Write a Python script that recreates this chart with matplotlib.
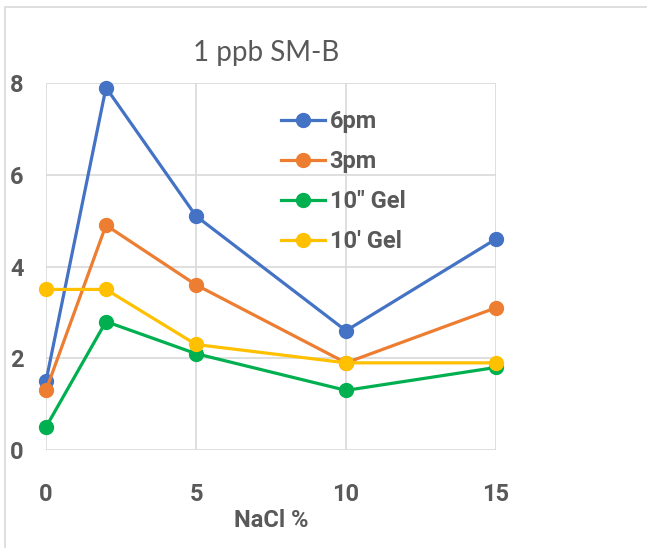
import matplotlib
matplotlib.use("Agg")
import matplotlib.pyplot as plt
from matplotlib.patches import Rectangle

nacl = [0, 2, 5, 10, 15]
series_names = ["6pm", "3pm", "10\" Gel", "10' Gel"]
v_6pm = [1.5, 7.9, 5.1, 2.6, 4.6]
v_3pm = [1.3, 4.9, 3.6, 1.9, 3.1]
v_gel10s = [0.5, 2.8, 2.1, 1.3, 1.8]
v_gel10m = [3.5, 3.5, 2.3, 1.9, 1.9]
colors = ["#4472C4", "#ED7D31", "#00B050", "#FFC000"]
x_ticks = [0, 5, 10, 15]
y_ticks = [0, 2, 4, 6, 8]

BOLD = ['Roboto', 'DejaVu Sans']
plt.rcParams['font.family'] = ['Lato', 'DejaVu Sans']

W, H = 647, 548
fig = plt.figure(figsize=(W/100, H/100), dpi=100)
fig.patches.append(Rectangle((5/W, -0.1), 1.2, 1 - 7/H + 0.1, transform=fig.transFigure,
                             fill=False, edgecolor="#d9d9d9", linewidth=1.2))

ax = fig.add_axes([46/W, 1 - 450/H, (496-46)/W, (450-83)/H])
for name, vals, c in zip(series_names, [v_6pm, v_3pm, v_gel10s, v_gel10m], colors):
    ax.plot(nacl, vals, color=c, lw=2.3, marker='o', markersize=10, label=name, clip_on=False)

ax.set_xlim(0, 15)
ax.set_ylim(0, 8)
ax.set_xticks(x_ticks)
ax.set_yticks(y_ticks)
ax.grid(True, color="#d9d9d9", lw=1.2)
ax.set_axisbelow(True)
for s in ax.spines.values():
    s.set_visible(False)
ax.tick_params(length=0, colors="#595959", labelsize=17)
ax.tick_params(axis='y', pad=16)
ax.tick_params(axis='x', pad=24)
for lbl in ax.get_xticklabels() + ax.get_yticklabels():
    lbl.set_fontweight('bold')
    lbl.set_family(BOLD)
ax.set_xlabel("NaCl %", fontsize=17, fontweight='bold', color="#595959", labelpad=2, family=BOLD)

fig.text(266/W, 1 - 53/H, "1 ppb SM-B", ha='center', va='center', fontsize=20, color="#595959")

leg = ax.legend(loc='upper left', bbox_to_anchor=(260/W, 1 - 89/H), bbox_transform=fig.transFigure,
                frameon=False, handlelength=1.85, handletextpad=0.2, labelspacing=0.72,
                prop={'size': 17, 'weight': 'bold', 'family': BOLD}, labelcolor="#595959")

fig.savefig("out.png", dpi=100)
